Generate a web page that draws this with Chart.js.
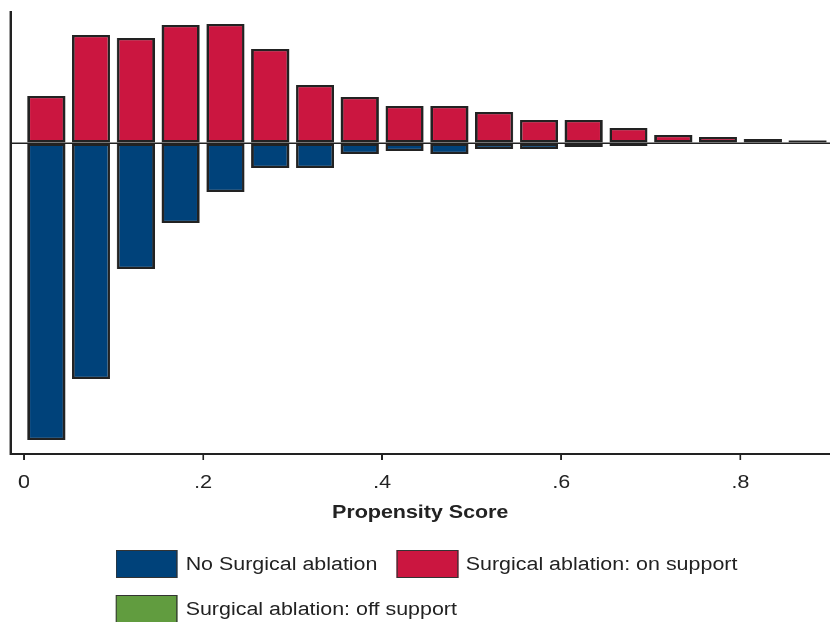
<!DOCTYPE html>
<html>
<head>
<meta charset="utf-8">
<script src="https://cdn.jsdelivr.net/npm/chart.js@4/dist/chart.umd.min.js"></script>
<style>
  html, body { margin: 0; padding: 0; background: #fff; }
  #wrap {
    position: absolute; left: 0; top: 0;
    width: 697px; height: 622px;
    transform: scaleX(1.1908); transform-origin: 0 0;
    overflow: hidden;
  }
  #wrap canvas { position: absolute; left: 0; top: 0; }
  .lg-item { position: absolute; height: 29px; font: 18px "Liberation Sans", Arial, sans-serif; color: #222; }
  .lg-box { position: absolute; top: 0; width: 50px; height: 26px; border: 1.5px solid #333; }
  .lg-text { position: absolute; top: 4px; white-space: nowrap; line-height: 21px; }
</style>
</head>
<body>
<div id="wrap">
  <canvas id="chart"></canvas>
  <div id="legend"></div>
</div>
<script>
// Propensity score bins (bin midpoints, width 0.05)
const binCenters = [0.025, 0.075, 0.125, 0.175, 0.225, 0.275, 0.325, 0.375, 0.425,
                    0.475, 0.525, 0.575, 0.625, 0.675, 0.725, 0.775, 0.825, 0.875];

// Density of treated patients on common support (drawn above zero)
const onSupport = [0.94, 2.16, 2.10, 2.36, 2.38, 1.88, 1.16, 0.92, 0.74,
                   0.74, 0.62, 0.46, 0.46, 0.30, 0.16, 0.12, 0.08, 0.05];

// Density of untreated patients (drawn below zero)
const noAblation = [-5.94, -4.72, -2.52, -1.60, -0.98, -0.50, -0.50, -0.22, -0.16,
                    -0.22, -0.12, -0.12, -0.08, -0.06, -0.02, null, null, null];

// Treated patients off common support: none in any bin
const offSupport = [null, null, null, null, null, null, null, null, null,
                    null, null, null, null, null, null, null, null, null];

const xTickValues = [0, 0.2, 0.4, 0.6, 0.8];
const xTickLabels = ['0', '.2', '.4', '.6', '.8'];

const seriesNames = ['No Surgical ablation', 'Surgical ablation: on support', 'Surgical ablation: off support'];
const seriesColors = ['#00427A', '#CB1640', '#619C3F'];

const toPoints = arr => binCenters.map((x, i) => ({ x: x, y: arr[i] }));

const FONT = '"Liberation Sans", Arial, sans-serif';
const INK = '#222222';

const datasets = [noAblation, onSupport, offSupport].map((arr, i) => ({
  label: seriesNames[i],
  data: toPoints(arr),
  backgroundColor: seriesColors[i],
  borderColor: INK,
  borderWidth: 2.2,
  borderSkipped: false,
  barPercentage: 0.85,
  categoryPercentage: 1.0
}));

new Chart(document.getElementById('chart'), {
  type: 'bar',
  data: { datasets: datasets },
  options: {
    responsive: true,
    maintainAspectRatio: false,
    animation: false,
    devicePixelRatio: 2,
    layout: { padding: { left: 0, right: 0, top: 12, bottom: 92 } },
    plugins: { legend: { display: false }, tooltip: { enabled: false } },
    scales: {
      x: {
        type: 'linear',
        stacked: true,
        offset: false,
        min: -0.015,
        max: 0.9,
        afterBuildTicks: s => { s.ticks = xTickValues.map(v => ({ value: v })); },
        afterFit: s => { s.height = 76; },
        ticks: {
          autoSkip: false,
          maxRotation: 0,
          padding: 12,
          color: INK,
          font: { family: FONT, size: 18 },
          callback: (v, i) => xTickLabels[i]
        },
        grid: { offset: false, drawOnChartArea: false, drawTicks: true, tickLength: 6, color: INK, lineWidth: 1.5 },
        border: { display: true, color: INK, width: 2 },
        title: {
          display: true,
          text: 'Propensity Score',
          color: INK,
          font: { family: FONT, size: 18, weight: 'bold' },
          padding: { top: 0, bottom: 6 }
        }
      },
      y: {
        stacked: true,
        min: -6.22,
        max: 2.62,
        afterFit: s => { s.width = 8.8; },
        afterBuildTicks: s => { s.ticks = [{ value: 0 }]; },
        ticks: { display: false },
        grid: {
          drawTicks: false,
          lineWidth: 1.5,
          color: ctx => (ctx.tick && ctx.tick.value === 0) ? INK : 'rgba(0,0,0,0)'
        },
        border: { display: true, color: INK, width: 2 }
      }
    }
  }
});

// Legend below the plot, two items on the first row, one on the second
const legendSlots = [
  { left: 97.4, top: 550 },
  { left: 332.6, top: 550 },
  { left: 97.4, top: 595 }
];
const legendEl = document.getElementById('legend');
seriesNames.forEach((name, i) => {
  const item = document.createElement('div');
  item.className = 'lg-item';
  item.style.left = legendSlots[i].left + 'px';
  item.style.top = legendSlots[i].top + 'px';
  const box = document.createElement('div');
  box.className = 'lg-box';
  box.style.left = '0px';
  box.style.background = seriesColors[i];
  const txt = document.createElement('div');
  txt.className = 'lg-text';
  txt.style.left = '58.5px';
  txt.textContent = name;
  item.appendChild(box);
  item.appendChild(txt);
  legendEl.appendChild(item);
});
</script>
</body>
</html>
